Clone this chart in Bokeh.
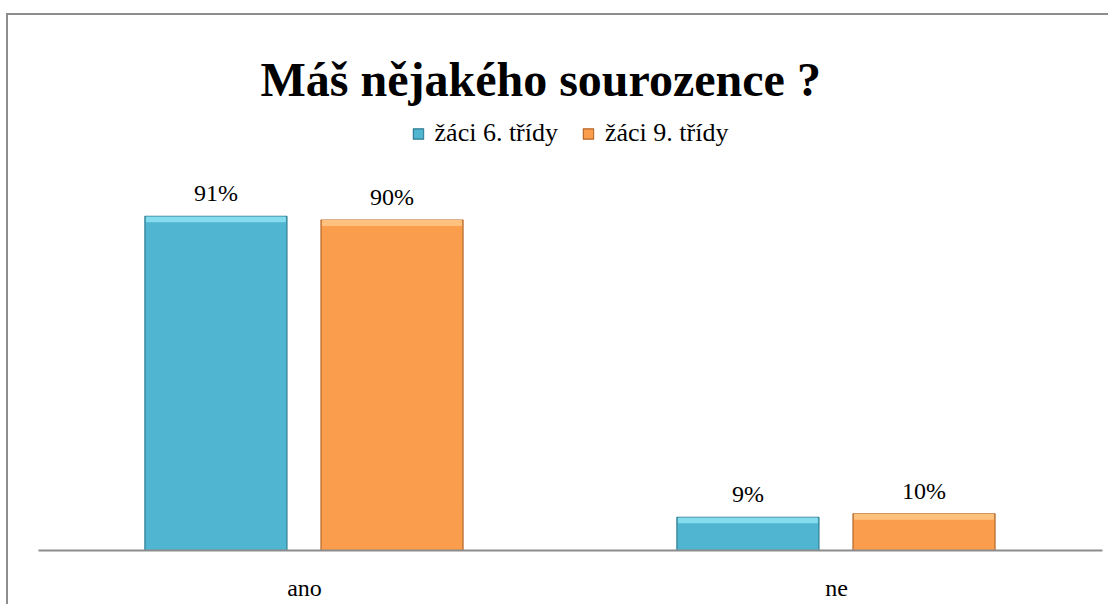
from bokeh.plotting import figure
from bokeh.models import ColumnDataSource, FactorRange, Range1d, Legend, LegendItem, LabelSet
from bokeh.transform import dodge
from bokeh.core.properties import value
from bokeh.embed import file_html
from bokeh.resources import INLINE

title = "Máš nějakého sourozence ?"
categories = ["ano", "ne"]
series_names = ["žáci 6. třídy", "žáci 9. třídy"]
sixth = [91, 9]
ninth = [90, 10]
sixth_labels = ["91%", "9%"]
ninth_labels = ["90%", "10%"]

BEVEL = 1.6  # style: highlight band height in value units
source = ColumnDataSource(dict(cat=categories, s6=sixth, s9=ninth,
                               b6=[v - BEVEL for v in sixth], b9=[v - BEVEL for v in ninth],
                               l6=sixth_labels, l9=ninth_labels))

FONT = "Liberation Serif"
p = figure(x_range=FactorRange(*categories, range_padding=0), y_range=Range1d(0, 118.5),
           width=1102, height=591, output_backend="svg", toolbar_location=None,
           min_border_left=30, min_border_right=8, min_border_top=100, min_border_bottom=56)
p.styles = {"border-left": "2px solid #8d8d8d", "border-top": "2px solid #8d8d8d",
            "margin-top": "13px", "margin-left": "6px"}

p.title.text = title
p.title.align = "left"
p.title.offset = 222
p.title.text_font = FONT
p.title.text_font_size = "48px"
p.title.text_font_style = "bold"
p.title.text_color = "#000000"
p.title.standoff = 20

W = 0.267
D6, D9 = -0.1665, 0.1645
BLUE, BLUE_DARK, BLUE_LIGHT = "#50B5D0", "#2F7C92", "#86DCEF"
ORANGE, ORANGE_DARK, ORANGE_LIGHT = "#FA9E4D", "#B5672A", "#FFC27E"

r6 = p.vbar(x=dodge("cat", D6, range=p.x_range), top="s6", width=W, source=source,
            fill_color=BLUE, line_color=BLUE_DARK, line_width=1.2)
r9 = p.vbar(x=dodge("cat", D9, range=p.x_range), top="s9", width=W, source=source,
            fill_color=ORANGE, line_color=ORANGE_DARK, line_width=1.2)
p.vbar(x=dodge("cat", D6, range=p.x_range), top="s6", bottom="b6", width=W - 0.004, source=source,
       fill_color=BLUE_LIGHT, line_color=None)
p.vbar(x=dodge("cat", D9, range=p.x_range), top="s9", bottom="b9", width=W - 0.004, source=source,
       fill_color=ORANGE_LIGHT, line_color=None)

p.add_layout(LabelSet(x=dodge("cat", D6, range=p.x_range), y="s6", text="l6", source=source,
                      text_align="center", text_baseline="bottom", y_offset=10,
                      text_font=value(FONT), text_font_size=value("24px"), text_color="#000000"))
p.add_layout(LabelSet(x=dodge("cat", D9, range=p.x_range), y="s9", text="l9", source=source,
                      text_align="center", text_baseline="bottom", y_offset=10,
                      text_font=value(FONT), text_font_size=value("24px"), text_color="#000000"))

legend = Legend(items=[LegendItem(label=series_names[0], renderers=[r6]),
                       LegendItem(label=series_names[1], renderers=[r9])],
                location="top_center", orientation="horizontal",
                label_text_font=FONT, label_text_font_size="26px", label_text_color="#000000",
                glyph_width=13, glyph_height=13, label_standoff=10, spacing=24,
                padding=0, margin=3, border_line_color=None, background_fill_alpha=0)
p.add_layout(legend)

p.yaxis.visible = False
p.xgrid.grid_line_color = None
p.ygrid.grid_line_color = None
p.outline_line_color = None
p.xaxis.axis_line_color = "#8c8c8c"
p.xaxis.axis_line_width = 2
p.xaxis.major_tick_line_color = None
p.xaxis.minor_tick_line_color = None
p.xaxis.major_label_text_font = FONT
p.xaxis.major_label_text_font_size = "24px"
p.xaxis.major_label_text_color = "#000000"
p.xaxis.major_label_standoff = 18

open("out.html", "w").write(file_html(p, INLINE))
